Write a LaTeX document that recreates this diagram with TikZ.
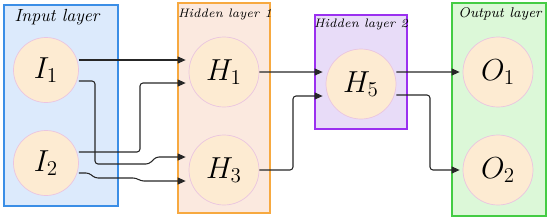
\documentclass[tikz,border=0pt]{standalone}
\usepackage{amsmath,amssymb}
\usepackage{xcolor}
\usepackage{tikz}
\usetikzlibrary{positioning,arrows.meta}

\definecolor{inputfill}{HTML}{DCEAFC}
\definecolor{inputline}{HTML}{3B8EE6}
\definecolor{hiddenafill}{HTML}{FBE9DF}
\definecolor{hiddenaline}{HTML}{F7A940}
\definecolor{hiddenbfill}{HTML}{E8DCF8}
\definecolor{hiddenbline}{HTML}{9B30F0}
\definecolor{outputfill}{HTML}{DCF8D8}
\definecolor{outputline}{HTML}{44CC44}
\definecolor{neuronfill}{HTML}{FDEBD2}
\definecolor{neuronline}{HTML}{EAC5E0}

\begin{document}
\begin{tikzpicture}[
		x=0.2mm, y=-0.2mm,
		layerbox/.style={
			draw,
			line width=0.6pt,
			inner sep=0pt
		},
		layertitle/.style={
			inner sep=0pt,
			font=\itshape
		},
		neuron/.style={
			circle,
			draw=neuronline,
			fill=neuronfill,
			minimum size=14mm,
			inner sep=0pt,
			font=\LARGE
		},
		arrow/.style={-{Triangle[length=1.6mm, width=1.4mm]}, line width=0.6pt, black!85, rounded corners=0.6mm, shorten >=0.6mm}
	]
		\useasboundingbox (0,0) rectangle (550,222);

		% layer boxes
		\node[layerbox, draw=inputline, fill=inputfill, minimum width=22.8mm, minimum height=40.2mm] (inputbox) at (61,105.5) {};
		\node[layerbox, draw=hiddenaline, fill=hiddenafill, minimum width=18.4mm, minimum height=42mm] (hiddenabox) at (224,108) {};
		\node[layerbox, draw=hiddenbline, fill=hiddenbfill, minimum width=18.4mm, minimum height=22.8mm] (hiddenbbox) at (361,72) {};
		\node[layerbox, draw=outputline, fill=outputfill, minimum width=18.8mm, minimum height=42.6mm] (outputbox) at (499,109.5) {};

		\node[layertitle] (inputtitle) at (57,17) {Input layer};
		\node[layertitle, font=\itshape\scriptsize] (hiddenatitle) at (225,14) {Hidden layer 1};
		\node[layertitle, font=\itshape\scriptsize] (hiddenbtitle) at (361,24) {Hidden layer 2};
		\node[layertitle, font=\itshape\footnotesize] (outputtitle) at (500,14) {Output layer};

		% neurons
		\node[neuron, minimum size=13mm] (I1) at (46,70) {$I_1$};
		\node[neuron, minimum size=13mm] (I2) at (46,163) {$I_2$};
		\node[neuron] (H1) at (224,72) {$H_1$};
		\node[neuron] (H3) at (224,170) {$H_3$};
		\node[neuron] (H5) at (361,84) {$H_5$};
		\node[neuron] (O1) at (498,72) {$O_1$};
		\node[neuron] (O2) at (498,170) {$O_2$};

		% connections
		\draw[arrow] ([yshift=2mm]I1.east) -- ([yshift=2mm]I1.east -| H1.west);
		\draw[arrow] ([yshift=-2.2mm]I1.east) -| (95,164) -- (149,164) -- (156,157) -- ([yshift=2.6mm]H3.west);
		\draw[arrow] ([yshift=2.2mm]I2.east) -| (140,83) -- ([yshift=-2.2mm]H1.west);
		\draw[arrow] ([yshift=-2mm]I2.east) -- (89,173) -- (95,178) -- (136,178) -- (141,181) -- ([yshift=-2.2mm]H3.west);
		\draw[arrow] (H1.east) -- ([yshift=2.4mm]H5.west);
		\draw[arrow] (H3.east) -| (293,96) -- ([yshift=-2.4mm]H5.west);
		\draw[arrow] ([yshift=2.4mm]H5.east) -- (O1.west);
		\draw[arrow] ([yshift=-2.2mm]H5.east) -| (430,170) -- (O2.west);
	\end{tikzpicture}
\end{document}
